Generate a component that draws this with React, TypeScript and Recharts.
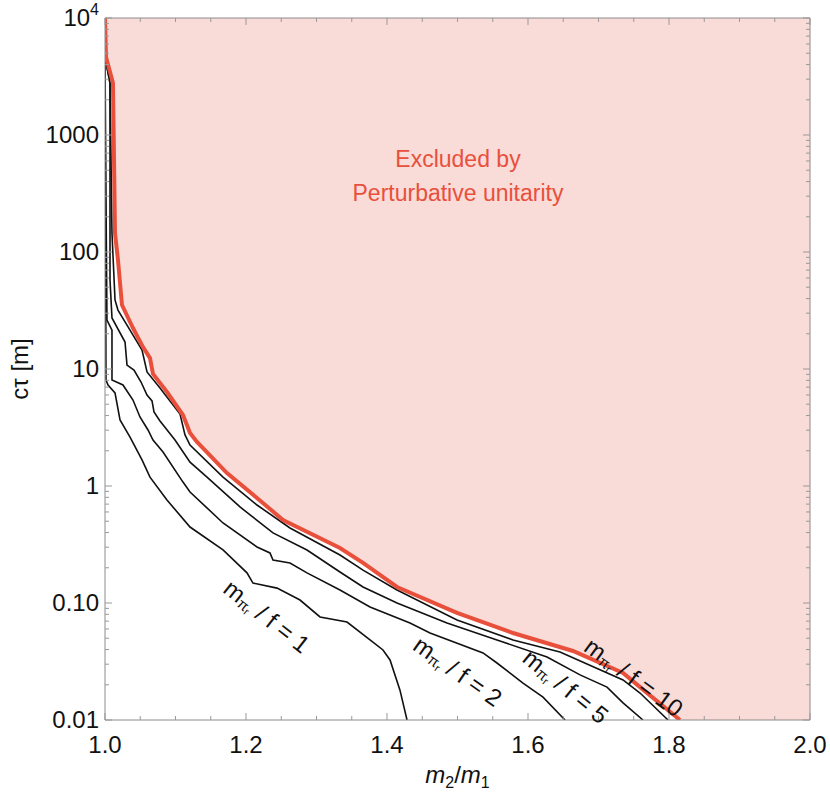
import React from "react"
import { ComposedChart, Line, Area, XAxis, YAxis, ReferenceDot } from "recharts"

// curves: [m2/m1, c*tau in m]
const unitarity: [number, number][] = [
  [1.0, 10000], [1.0014, 4640], [1.0113, 2780], [1.0142, 145], [1.0184, 85.5], [1.0241, 35.2],
  [1.0397, 22.4], [1.0539, 15.4], [1.0638, 12.4], [1.0681, 9.06], [1.0879, 6.36], [1.1106, 4.04],
  [1.1206, 2.84], [1.1305, 2.38], [1.173, 1.29], [1.2156, 0.79], [1.2525, 0.512], [1.3333, 0.295],
  [1.366, 0.22], [1.4142, 0.137], [1.4993, 0.0822], [1.5787, 0.0554], [1.6638, 0.0389],
  [1.7348, 0.0252], [1.7589, 0.0191], [1.8156, 0.01],
]

const f10: [number, number][] = [
  [1.0, 10000], [1.0, 4640], [1.0071, 2780], [1.0099, 145], [1.0142, 38.9], [1.0184, 31.9],
  [1.0355, 21.5], [1.0525, 14.5], [1.0596, 9.43], [1.078, 6.88], [1.1064, 4.12], [1.1135, 2.73],
  [1.1206, 2.24], [1.1674, 1.19], [1.2156, 0.688], [1.2624, 0.438], [1.3333, 0.257], [1.366, 0.191],
  [1.4142, 0.129], [1.4993, 0.0716], [1.5787, 0.0483], [1.6454, 0.0381], [1.7348, 0.022],
  [1.7589, 0.017], [1.7986, 0.01],
]

const f5: [number, number][] = [
  [1.0, 10000], [1.0, 4640], [1.0071, 2780], [1.0071, 57.7], [1.0099, 27.3], [1.0284, 17.0],
  [1.0312, 10.8], [1.0411, 9.8], [1.0511, 7.74], [1.0596, 5.99], [1.0667, 5.33], [1.0695, 4.29],
  [1.078, 3.59], [1.0993, 2.47], [1.1206, 1.6], [1.1447, 1.19], [1.1915, 0.662], [1.2383, 0.397],
  [1.2865, 0.284], [1.3333, 0.184], [1.366, 0.137], [1.4142, 0.1], [1.4851, 0.0675], [1.556, 0.0483],
  [1.627, 0.0345], [1.6738, 0.0243], [1.7121, 0.0191], [1.7348, 0.014], [1.7631, 0.01],
]

const f2: [number, number][] = [
  [1.0, 10000], [1.0, 4640], [1.0014, 278], [1.0028, 26.2], [1.0099, 21.5], [1.0099, 8.05],
  [1.0255, 7.3], [1.0397, 5.43], [1.0496, 3.89], [1.061, 3.01], [1.0681, 2.47], [1.0823, 1.95],
  [1.1106, 1.08], [1.1206, 0.889], [1.1674, 0.483], [1.2156, 0.301], [1.234, 0.268], [1.2383, 0.233],
  [1.2624, 0.22], [1.2865, 0.181], [1.3333, 0.129], [1.3759, 0.0924], [1.4326, 0.0675],
  [1.461, 0.0554], [1.5362, 0.0374], [1.556, 0.0307], [1.5929, 0.0207], [1.6213, 0.0157],
  [1.6525, 0.01],
]

const f1: [number, number][] = [
  [1.0, 10000], [1.0, 4640], [1.0014, 8.05], [1.0043, 7.3], [1.0142, 6.24], [1.0213, 3.67],
  [1.0355, 2.62], [1.0525, 1.67], [1.0638, 1.19], [1.0879, 0.759], [1.1206, 0.446], [1.1674, 0.284],
  [1.2014, 0.181], [1.2099, 0.148], [1.244, 0.134], [1.2766, 0.106], [1.305, 0.076], [1.3433, 0.0688],
  [1.3759, 0.0483], [1.3943, 0.0397], [1.4043, 0.0326], [1.4184, 0.018], [1.4284, 0.01],
]

// contour labels: value, position [x, y], rotation
const contourLabels: { value: string; at: [number, number]; angle: number }[] = [
  { value: "1", at: [1.2298, 0.0774], angle: 38 },
  { value: "2", at: [1.5007, 0.0262], angle: 35 },
  { value: "5", at: [1.6539, 0.0195], angle: 39 },
  { value: "10", at: [1.7504, 0.0233], angle: 36 },
]

const xTicks = [
  1.0, 1.05, 1.1, 1.15, 1.2, 1.25, 1.3, 1.35, 1.4, 1.45, 1.5,
  1.55, 1.6, 1.65, 1.7, 1.75, 1.8, 1.85, 1.9, 1.95, 2.0,
]
const xMajorTicks = [1.0, 1.2, 1.4, 1.6, 1.8, 2.0]
const yMajorTicks = [0.01, 0.1, 1, 10, 100, 1000, 10000]
const yTickLabels = ["0.01", "0.10", "1", "10", "100", "1000", "10^4"]
const minorMantissas = [2, 3, 4, 5, 6, 7, 8, 9]
const yMinorTicks = yMajorTicks.slice(0, -1).flatMap((d) => minorMantissas.map((m) => +(m * d).toPrecision(3)))
const yTicks = [...yMajorTicks, ...yMinorTicks].sort((a, b) => a - b)

const FONT = "'Liberation Sans', Arial, Helvetica, sans-serif"
const FRAME = "#8c8c8c"
const TICK = "#999"
const RED = "#e8503c"
const PINK = "#f9dbd8"

const toPoints = (arr: [number, number][]) => arr.map(([x, y]) => ({ x, y }))
const areaData = [
  ...unitarity.map(([x, y]) => ({ x, range: [y, 10000] })),
  { x: 2.0, range: [0.01, 10000] },
]

const isMajorX = (v: number) => xMajorTicks.some((t) => Math.abs(t - v) < 1e-6)
const majorYIndex = (v: number) => yMajorTicks.findIndex((t) => Math.abs(t - v) / t < 1e-6)

function XTick(props: any) {
  const { x, y, payload, top } = props
  const major = isMajorX(payload.value)
  const len = major ? 7 : 4
  return (
    <g>
      <line x1={x} x2={x} y1={y} y2={top ? y + len : y - len} stroke={TICK} strokeWidth={1} />
      {!top && major && (
        <text x={x} y={y + 33} textAnchor="middle" fontSize={24} fontFamily={FONT} fill="#111">
          {payload.value.toFixed(1)}
        </text>
      )}
    </g>
  )
}

function YTick(props: any) {
  const { x, y, payload, right } = props
  const idx = majorYIndex(payload.value)
  const len = idx >= 0 ? 7 : 4
  const label = idx >= 0 ? yTickLabels[idx] : null
  return (
    <g>
      <line x1={x} x2={right ? x - len : x + len} y1={y} y2={y} stroke={TICK} strokeWidth={1} />
      {!right && label && (
        <text x={x - 6} y={y + 8} textAnchor="end" fontSize={24} fontFamily={FONT} fill="#111">
          {label === "10^4" ? (
            <>
              10<tspan fontSize={16} dy={-11}>4</tspan>
            </>
          ) : (
            label
          )}
        </text>
      )}
    </g>
  )
}

function ContourLabel(props: any) {
  const { cx, cy, value, angle } = props
  return (
    <text
      x={cx}
      y={cy}
      transform={`rotate(${angle} ${cx} ${cy})`}
      textAnchor="middle"
      dominantBaseline="central"
      fontSize={24}
      fontFamily={FONT}
      fill="#111"
    >
      m<tspan fontSize={15} dy={5}>π</tspan>
      <tspan fontSize={11} dy={4}>r</tspan>
      <tspan fontSize={24} dy={-9} dx={7}>/ f = {value}</tspan>
    </text>
  )
}

function ExcludedText(props: any) {
  const { cx, cy } = props
  return (
    <g fontFamily={FONT} fontSize={23} fill={RED} textAnchor="middle">
      <text x={cx} y={cy - 17} dominantBaseline="central">Excluded by</text>
      <text x={cx} y={cy + 17} dominantBaseline="central">Perturbative unitarity</text>
    </g>
  )
}

function YTitle(props: any) {
  const { viewBox } = props
  const x = viewBox.x + 4
  const y = viewBox.y + viewBox.height / 2
  return (
    <text x={x} y={y} transform={`rotate(-90 ${x} ${y})`} textAnchor="middle" dominantBaseline="central"
      fontSize={24} fontFamily={FONT} fill="#111">
      cτ [m]
    </text>
  )
}

function XTitle(props: any) {
  const { viewBox } = props
  const x = viewBox.x + viewBox.width / 2
  return (
    <text x={x} y={783} textAnchor="middle" fontSize={24} fontFamily={FONT} fill="#111">
      <tspan fontStyle="italic">m</tspan>
      <tspan fontSize={16} dy={5}>2</tspan>
      <tspan dy={-5}>/</tspan>
      <tspan fontStyle="italic">m</tspan>
      <tspan fontSize={16} dy={5}>1</tspan>
    </text>
  )
}

export default function App() {
  return (
    <div style={{ position: "absolute", left: 0, top: 0, background: "#fff" }}>
      <ComposedChart width={830} height={799} margin={{ top: 17, right: 19, left: 15, bottom: 19 }}>
        <Area
          data={areaData}
          dataKey="range"
          type="linear"
          fill={PINK}
          fillOpacity={1}
          stroke="none"
          isAnimationActive={false}
        />
        <Line data={toPoints(f1)} dataKey="y" type="linear" stroke="#111" strokeWidth={1.6} dot={false} isAnimationActive={false} />
        <Line data={toPoints(f2)} dataKey="y" type="linear" stroke="#111" strokeWidth={1.6} dot={false} isAnimationActive={false} />
        <Line data={toPoints(f5)} dataKey="y" type="linear" stroke="#111" strokeWidth={1.6} dot={false} isAnimationActive={false} />
        <Line data={toPoints(f10)} dataKey="y" type="linear" stroke="#111" strokeWidth={1.6} dot={false} isAnimationActive={false} />
        <Line data={toPoints(unitarity)} dataKey="y" type="linear" stroke={RED} strokeWidth={4} dot={false} isAnimationActive={false} />
        {/* invisible copy so the mirrored frame axes (top / right) get drawn */}
        <Line
          xAxisId="top"
          yAxisId="right"
          data={toPoints(unitarity)}
          dataKey="y"
          stroke="none"
          dot={false}
          activeDot={false}
          isAnimationActive={false}
        />
        {contourLabels.map((l) => (
          <ReferenceDot
            key={l.value}
            x={l.at[0]}
            y={l.at[1]}
            r={0}
            shape={(p: any) => <ContourLabel {...p} value={l.value} angle={l.angle} />}
          />
        ))}
        <ReferenceDot x={1.5007} y={450} r={0} shape={(p: any) => <ExcludedText {...p} />} />
        <XAxis
          dataKey="x"
          type="number"
          domain={[1, 2]}
          allowDataOverflow
          ticks={xTicks}
          interval={0}
          tickSize={0}
          tickMargin={0}
          tickLine={false}
          axisLine={{ stroke: FRAME }}
          height={60}
          tick={<XTick />}
          label={<XTitle />}
        />
        <XAxis
          xAxisId="top"
          orientation="top"
          dataKey="x"
          type="number"
          domain={[1, 2]}
          allowDataOverflow
          ticks={xTicks}
          interval={0}
          tickSize={0}
          tickMargin={0}
          tickLine={false}
          axisLine={{ stroke: FRAME }}
          height={1}
          tick={<XTick top />}
        />
        <YAxis
          type="number"
          scale="log"
          domain={[0.01, 10000]}
          allowDataOverflow
          ticks={yTicks}
          interval={0}
          tickSize={0}
          tickMargin={0}
          tickLine={false}
          axisLine={{ stroke: FRAME }}
          width={90}
          tick={<YTick />}
          label={<YTitle />}
        />
        <YAxis
          yAxisId="right"
          orientation="right"
          type="number"
          scale="log"
          domain={[0.01, 10000]}
          allowDataOverflow
          ticks={yTicks}
          interval={0}
          tickSize={0}
          tickMargin={0}
          tickLine={false}
          axisLine={{ stroke: FRAME }}
          width={1}
          tick={<YTick right />}
        />
      </ComposedChart>
    </div>
  )
}
